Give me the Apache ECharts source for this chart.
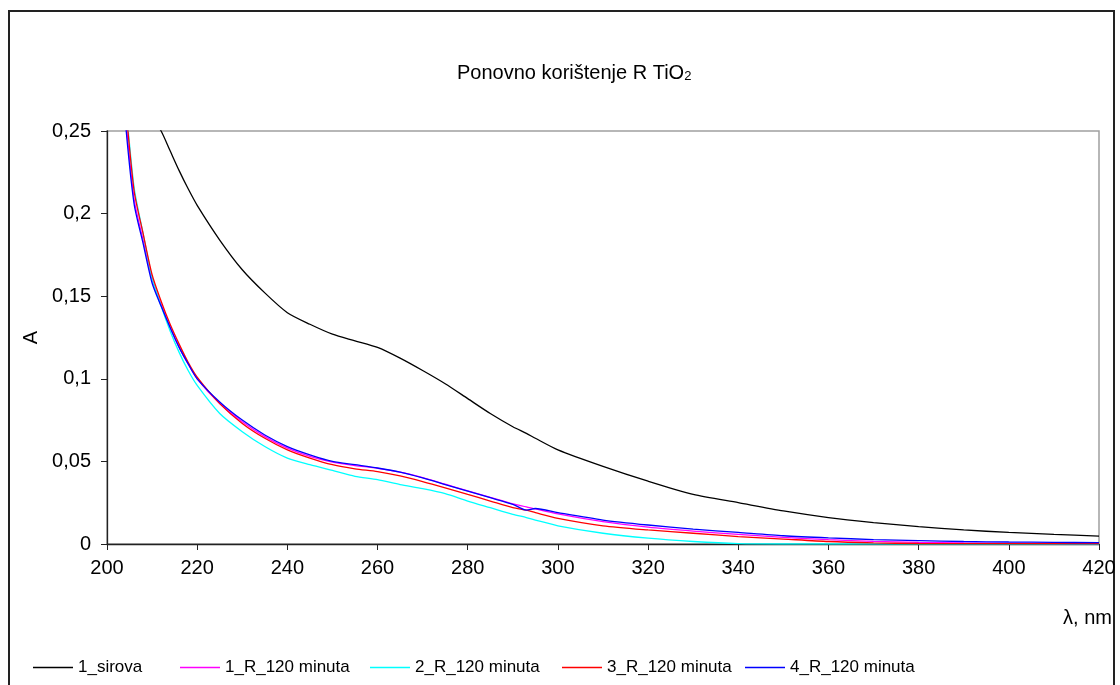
<!DOCTYPE html>
<html>
<head>
<meta charset="utf-8">
<script src="https://cdn.jsdelivr.net/npm/echarts@6/dist/echarts.min.js"></script>
<style>
  html, body { margin: 0; padding: 0; background: #fff; }
  #chart { width: 1120px; height: 685px; }
</style>
</head>
<body>
<div id="chart"></div>
<script>
// valna duljina, nm
var lambdaNm = [200, 202, 204, 206, 208, 210, 212, 214, 216, 218, 220, 225, 230, 235, 240, 245, 250, 255, 260, 265, 270, 275, 280, 285, 290, 293, 295, 300, 310, 320, 330, 340, 350, 360, 370, 380, 390, 400, 410, 420];

var sirova1 = [0.36, 0.33, 0.30, 0.28, 0.266, 0.258, 0.25, 0.238, 0.226, 0.215, 0.205, 0.184, 0.166, 0.152, 0.140, 0.133, 0.127, 0.123, 0.119, 0.1125, 0.105, 0.097, 0.088, 0.079, 0.071, 0.067, 0.064, 0.057, 0.047, 0.038, 0.030, 0.025, 0.020, 0.016, 0.013, 0.0105, 0.0085, 0.007, 0.0058, 0.0048];
var r1_120 = [0.40, 0.33, 0.262, 0.209, 0.184, 0.160, 0.145, 0.131, 0.119, 0.109, 0.100, 0.085, 0.074, 0.065, 0.058, 0.053, 0.0495, 0.0475, 0.0458, 0.0435, 0.0402, 0.0362, 0.0322, 0.0282, 0.0243, 0.0225, 0.0212, 0.0182, 0.0135, 0.0102, 0.0078, 0.0058, 0.0040, 0.0026, 0.0016, 0.0010, 0.0006, 0.0004, 0.0003, 0.0002];
var r2_120 = [0.41, 0.34, 0.272, 0.216, 0.188, 0.161, 0.144, 0.129, 0.116, 0.105, 0.096, 0.079, 0.068, 0.059, 0.052, 0.048, 0.0445, 0.041, 0.039, 0.036, 0.0335, 0.0305, 0.026, 0.022, 0.018, 0.016, 0.0145, 0.011, 0.0065, 0.0035, 0.0015, 0.0002, 0, 0, 0, 0, 0, 0, 0, 0];
var r3_120 = [0.41, 0.34, 0.270, 0.214, 0.188, 0.163, 0.147, 0.133, 0.121, 0.110, 0.101, 0.085, 0.073, 0.064, 0.057, 0.052, 0.048, 0.0455, 0.0438, 0.0412, 0.0378, 0.034, 0.030, 0.026, 0.022, 0.0205, 0.019, 0.0155, 0.011, 0.0085, 0.0065, 0.0045, 0.003, 0.0015, 0.0007, 0.0003, 0.0002, 0.0002, 0.0002, 0.0002];
var r4_120 = [0.40, 0.33, 0.258, 0.206, 0.182, 0.158, 0.144, 0.131, 0.119, 0.109, 0.100, 0.086, 0.075, 0.066, 0.059, 0.054, 0.050, 0.048, 0.046, 0.0435, 0.040, 0.036, 0.032, 0.028, 0.024, 0.0205, 0.0215, 0.019, 0.0145, 0.0115, 0.009, 0.007, 0.005, 0.0037, 0.0027, 0.002, 0.0015, 0.0012, 0.001, 0.0008];

var seriesNames = ['1_sirova', '1_R_120 minuta', '2_R_120 minuta', '3_R_120 minuta', '4_R_120 minuta'];
var seriesColors = ['#000000', '#ff00ff', '#00ffff', '#ff0000', '#0000ff'];
var seriesValues = [sirova1, r1_120, r2_120, r3_120, r4_120];

var yTickLabels = ['0', '0,05', '0,1', '0,15', '0,2', '0,25'];

var font = "'Liberation Sans', Arial, sans-serif";
var legendLeft = [28, 175, 365, 557, 740];

function pairs(vals) {
    var out = [];
    for (var i = 0; i < lambdaNm.length; i++) {
        out.push([lambdaNm[i], vals[i]]);
    }
    return out;
}

var series = [];
var legends = [];
for (var i = 0; i < seriesNames.length; i++) {
    series.push({
        name: seriesNames[i],
        type: 'line',
        data: pairs(seriesValues[i]),
        symbol: 'none',
        smooth: 0.25,
        clip: true,
        lineStyle: { color: seriesColors[i], width: 1.3 },
        itemStyle: { color: seriesColors[i] },
        z: 2 + i
    });
    legends.push({
        left: legendLeft[i],
        top: 654,
        icon: 'rect',
        itemWidth: 40,
        itemHeight: 1.5,
        data: [seriesNames[i]],
        textStyle: { fontFamily: font, fontSize: 17, color: '#000' }
    });
}

var myChart = echarts.init(document.getElementById('chart'));
var option = {
    animation: false,
    backgroundColor: '#ffffff',
    textStyle: { fontFamily: font },
    title: {
        text: '{a|Ponovno korištenje R TiO}{s|2}',
        left: 452,
        top: 52,
        textStyle: {
            fontWeight: 'normal',
            rich: {
                a: { fontFamily: font, fontSize: 20, fontWeight: 'normal', color: '#000', lineHeight: 26, verticalAlign: 'bottom' },
                s: { fontFamily: font, fontSize: 13, fontWeight: 'normal', color: '#000', lineHeight: 22, verticalAlign: 'bottom' }
            }
        }
    },
    graphic: [{
        type: 'rect',
        shape: { x: 9, y: 11, width: 1105, height: 700 },
        style: { fill: 'none', stroke: '#222', lineWidth: 2 },
        silent: true
    }, {
        type: 'text',
        right: 8,
        top: 608,
        style: { text: 'λ, nm', fontFamily: font, fontSize: 20, fill: '#000' },
        silent: true
    }],
    legend: legends,
    grid: {
        left: 107,
        top: 131,
        right: 21,
        bottom: 141,
        show: true,
        borderColor: '#a0a0a0',
        borderWidth: 1.5,
        containLabel: false
    },
    xAxis: {
        type: 'value',
        min: 200,
        max: 420,
        interval: 20,
        axisLine: { show: true, lineStyle: { color: '#222', width: 1.3 } },
        axisTick: { show: true, length: 6, lineStyle: { color: '#222' } },
        axisLabel: { margin: 14, fontSize: 20, color: '#000', fontFamily: font },
        splitLine: { show: false }
    },
    yAxis: {
        type: 'value',
        min: 0,
        max: 0.25,
        interval: 0.05,
        name: 'A',
        nameLocation: 'middle',
        nameRotate: 90,
        nameGap: 66,
        nameTextStyle: { fontFamily: font, fontSize: 20, color: '#000' },
        axisLine: { show: true, lineStyle: { color: '#222', width: 1.3 } },
        axisTick: { show: true, length: 6, lineStyle: { color: '#222' } },
        axisLabel: {
            margin: 16,
            fontSize: 20,
            color: '#000',
            fontFamily: font,
            formatter: function (v) {
                return yTickLabels[Math.round(v / 0.05)];
            }
        },
        splitLine: { show: false }
    },
    series: series
};
myChart.setOption(option);
</script>
</body>
</html>
